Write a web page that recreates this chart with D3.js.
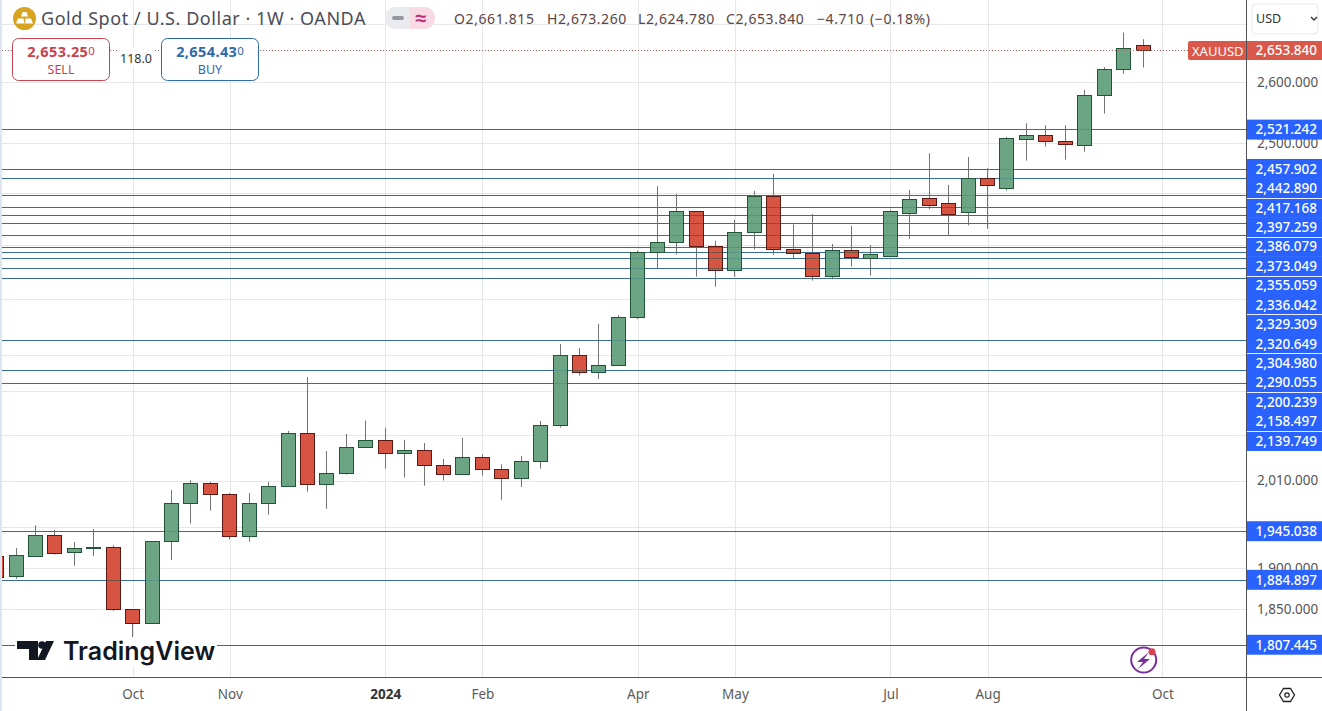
<!DOCTYPE html>
<html>
<head>
<meta charset="utf-8">
<script src="https://cdn.jsdelivr.net/npm/d3@7"></script>
<style>
    html, body { margin: 0; background: #fff; overflow: hidden; }
    text { font-family: "Noto Sans", sans-serif; }
    .grid line { stroke: #e6e7e9; stroke-width: 1; shape-rendering: crispEdges; }
    .grid path { display: none; }
    .level { stroke: #3a6b93; stroke-width: 1; shape-rendering: crispEdges; }
    .level-tint { stroke: #4a90c0; stroke-width: 1; opacity: 0.7; mix-blend-mode: darken; shape-rendering: crispEdges; }
</style>
</head>
<body>
<svg id="chart" width="1322" height="711"></svg>
<script>
// weekly candles, first one is the bar cut off by the left edge
var opens = [1914.4, 1889.1, 1914.7, 1940.3, 1918.4, 1923.9, 1925.1, 1849.6, 1833.0, 1932.7, 1980.6, 2006.6, 1992.2, 1938.5, 1980.6, 2002.7, 2072.5, 2005.3, 2019.6, 2053.6, 2063.0, 2045.7, 2049.6, 2030.0, 2018.3, 2040.5, 2024.8, 2013.1, 2035.3, 2083.2, 2179.4, 2155.8, 2165.5, 2233.8, 2329.4, 2344.6, 2392.1, 2338.5, 2303.1, 2360.0, 2415.7, 2334.3, 2327.9, 2293.2, 2332.4, 2320.5, 2323.2, 2389.0, 2412.0, 2404.3, 2389.0, 2442.6, 2427.8, 2506.0, 2512.5, 2502.7, 2496.2, 2578.2, 2622.1, 2661.815];
var highs = [1919.3, 1924.2, 1952.9, 1946.9, 1931.8, 1948.1, 1927.7, 1849.9, 1933.1, 1997.8, 2010.5, 2008.3, 1993.9, 1993.9, 2008.3, 2075.6, 2148.9, 2048.7, 2071.5, 2089.4, 2079.6, 2063.5, 2059.4, 2038.3, 2066.2, 2044.4, 2031.4, 2042.2, 2089.0, 2195.4, 2189.7, 2224.1, 2236.6, 2331.8, 2431.5, 2418.9, 2392.5, 2346.6, 2378.8, 2423.6, 2450.5, 2371.6, 2387.9, 2342.0, 2369.6, 2340.5, 2394.1, 2425.2, 2483.3, 2433.1, 2477.4, 2459.5, 2509.8, 2532.1, 2528.8, 2528.8, 2587.2, 2625.5, 2684.8, 2673.26];
var lows = [1886.3, 1886.3, 1913.5, 1916.0, 1902.5, 1914.4, 1847.6, 1811.2, 1832.8, 1909.5, 1954.9, 1971.3, 1935.2, 1932.2, 1966.3, 2002.7, 1995.6, 1973.8, 2017.8, 2053.6, 2025.6, 2013.9, 2003.4, 2010.0, 2018.3, 2016.5, 1985.2, 2001.7, 2025.6, 2080.0, 2151.1, 2146.4, 2165.5, 2230.9, 2304.2, 2325.8, 2293.2, 2278.3, 2293.2, 2333.9, 2325.8, 2320.5, 2287.2, 2289.3, 2308.0, 2294.7, 2322.9, 2350.1, 2395.2, 2355.3, 2370.3, 2365.0, 2424.1, 2471.6, 2494.0, 2473.2, 2485.8, 2547.9, 2614.6, 2624.78];
var closes = [1888.7, 1915.2, 1940.3, 1918.4, 1923.9, 1925.5, 1849.1, 1833.0, 1932.7, 1980.6, 2006.6, 1992.2, 1938.5, 1980.6, 2002.7, 2072.5, 2005.3, 2019.6, 2053.6, 2063.0, 2045.7, 2049.6, 2030.0, 2018.3, 2040.5, 2024.8, 2013.1, 2035.3, 2083.2, 2179.4, 2155.8, 2165.5, 2233.8, 2329.4, 2344.6, 2392.1, 2337.9, 2303.1, 2360.0, 2415.7, 2333.9, 2327.9, 2293.2, 2332.4, 2321.4, 2326.4, 2392.1, 2410.5, 2401.3, 2386.9, 2442.6, 2431.0, 2507.6, 2512.5, 2502.7, 2497.8, 2578.2, 2622.1, 2658.0, 2653.84];

var levels = [2521.242, 2457.902, 2442.890, 2417.168, 2397.259, 2386.079, 2373.049, 2355.059, 2336.042, 2329.309, 2320.649, 2304.980, 2290.055, 2200.239, 2158.497, 2139.749, 1945.038, 1884.897, 1807.445];
var gridPrices = [2700, 2600, 2500, 2420, 2340, 2260, 2180, 2130, 2070, 2010, 1950, 1900, 1850];
var priceLabels = [2600, 2500, 2010, 1950, 1900, 1850];
var monthBars = [7, 12, 20, 25, 33, 38, 46, 51, 60];
var monthLabels = ["Oct", "Nov", "2024", "Feb", "Apr", "May", "Jul", "Aug", "Oct"];
var ohlcText = ["O2,661.815", "H2,673.260", "L2,624.780", "C2,653.840", "\u22124.710", "(\u22120.18%)"];
var lastPrice = 2653.84;

var plotRight = 1246, plotBottom = 677;

var svg = d3.select("#chart");
var x = d3.scaleLinear().domain([1, 59]).range([16, 1143]);
var y = d3.scaleLog().domain([lastPrice, 1807.445]).range([50.5, 645]);
var fmt = d3.format(",.3f");

function crisp(v) { return Math.floor(v) + 0.5; }

svg.append("defs").append("clipPath").attr("id", "plot")
    .append("rect").attr("x", 2).attr("y", 0).attr("width", plotRight - 2).attr("height", plotBottom);

svg.append("rect").attr("x", 0).attr("y", 0).attr("width", 2).attr("height", 711).attr("fill", "#dfe5ee");

// grid comes straight from the axes
var yAxis = d3.axisRight(y).tickValues(priceLabels).tickSize(0).tickPadding(0).tickFormat(fmt);
var xAxis = d3.axisBottom(x).tickValues(monthBars).tickSize(0).tickPadding(0)
    .tickFormat(function(d, i) { return monthLabels[i]; });

svg.append("g").attr("class", "grid")
    .attr("transform", "translate(2,0)")
    .call(d3.axisRight(y).tickValues(gridPrices).tickSize(plotRight - 2).tickFormat(""));
svg.append("g").attr("class", "grid")
    .attr("clip-path", "url(#plot)")
    .call(d3.axisBottom(x).tickValues(monthBars).tickSize(plotBottom).tickFormat(""));

var plot = svg.append("g").attr("clip-path", "url(#plot)");

plot.selectAll(".level").data(levels).enter().append("line")
    .attr("class", "level")
    .attr("x1", 2).attr("x2", plotRight)
    .attr("y1", function(d) { return crisp(y(d)); })
    .attr("y2", function(d) { return crisp(y(d)); });

// candles
var candles = plot.selectAll(".candle").data(opens).enter().append("g").attr("class", "candle");

candles.append("line")
    .attr("x1", function(d, i) { return crisp(x(i)); })
    .attr("x2", function(d, i) { return crisp(x(i)); })
    .attr("y1", function(d, i) { return y(highs[i]); })
    .attr("y2", function(d, i) { return y(lows[i]); })
    .attr("stroke", "#737375").attr("stroke-width", 1);

candles.append("rect")
    .attr("x", function(d, i) { return crisp(x(i)) - 7; })
    .attr("width", 14)
    .attr("y", function(d, i) { return crisp(y(Math.max(d, closes[i]))); })
    .attr("height", function(d, i) { return Math.max(1, Math.round(Math.abs(y(d) - y(closes[i])))); })
    .attr("fill", function(d, i) { return closes[i] >= d ? "#6ba583" : "#d75442"; })
    .attr("stroke", function(d, i) { return closes[i] >= d ? "#225437" : "#5b1a13"; })
    .attr("stroke-width", 1)
    .attr("shape-rendering", "crispEdges");

// the levels show through the candle bodies
plot.selectAll(".level-tint").data(levels).enter().append("line")
    .attr("class", "level-tint")
    .attr("x1", 2).attr("x2", plotRight)
    .attr("y1", function(d) { return crisp(y(d)); })
    .attr("y2", function(d) { return crisp(y(d)); });

// last price dotted line
plot.append("line")
    .attr("x1", 2).attr("x2", plotRight)
    .attr("y1", crisp(y(lastPrice))).attr("y2", crisp(y(lastPrice)))
    .attr("stroke", "#a9695f").attr("stroke-width", 1)
    .attr("stroke-dasharray", "1 2");

// price axis
var yG = svg.append("g").attr("transform", "translate(" + (plotRight + 11) + ",0)").call(yAxis);
yG.select("path").remove();
yG.selectAll("text").attr("font-size", 13.5).attr("fill", "#555")
    .style("font-family", '"Noto Sans", sans-serif');

// time axis
var xG = svg.append("g").attr("transform", "translate(0," + (plotBottom + 12) + ")").call(xAxis);
xG.select("path").remove();
xG.selectAll("text")
    .attr("font-size", 13.5)
    .attr("fill", function(d, i) { return monthLabels[i] == "2024" ? "#333" : "#5b5b5b"; })
    .attr("font-weight", function(d, i) { return monthLabels[i] == "2024" ? 700 : 400; })
    .style("font-family", '"Noto Sans", sans-serif');

svg.append("line").attr("x1", 2).attr("x2", 1322).attr("y1", plotBottom + 0.5).attr("y2", plotBottom + 0.5)
    .attr("stroke", "#50535e");
svg.append("line").attr("x1", plotRight + 0.5).attr("x2", plotRight + 0.5).attr("y1", 0).attr("y2", 711)
    .attr("stroke", "#50535e");

// level tags, pushed down when they would overlap
var tagH = 19.43;
var tagY = [];
levels.forEach(function(d, i) {
    var c = y(d) - 0.5;
    tagY.push(i && c < tagY[i - 1] + tagH ? tagY[i - 1] + tagH : c);
});
var tags = svg.selectAll(".tag").data(levels).enter().append("g").attr("class", "tag")
    .attr("transform", function(d, i) { return "translate(" + (plotRight + 1) + "," + tagY[i] + ")"; });
tags.append("rect")
    .attr("x", 0).attr("y", -tagH / 2).attr("width", 75).attr("height", tagH + 0.5)
    .attr("fill", "#2962ff");
tags.append("text")
    .attr("x", 70).attr("y", 5).attr("text-anchor", "end")
    .attr("font-size", 13.5).attr("font-weight", 500).attr("fill", "#fff")
    .text(function(d) { return fmt(d); });
// thin gaps between every second tag of the stacked block
svg.selectAll(".tag-gap").data(d3.range(2, 15, 2)).enter().append("line")
    .attr("x1", plotRight + 1).attr("x2", 1322)
    .attr("y1", function(i) { return Math.round(tagY[i] + tagH / 2) + 0.5; })
    .attr("y2", function(i) { return Math.round(tagY[i] + tagH / 2) + 0.5; })
    .attr("stroke", "#e8eeff");

// last price tag
var py = y(lastPrice);
svg.append("rect").attr("x", 1188).attr("y", py - 9.5).attr("width", 70).attr("height", 19).attr("rx", 2).attr("fill", "#d9584a");
svg.append("rect").attr("x", plotRight + 1).attr("y", py - 9.5).attr("width", 75).attr("height", 19).attr("fill", "#d9584a");
svg.append("text").attr("x", 1192).attr("y", py + 5).attr("font-size", 13).attr("fill", "#fff").text("XAUUSD");
svg.append("text").attr("x", 1317).attr("y", py + 4).attr("text-anchor", "end").attr("font-size", 13.5)
    .attr("font-weight", 500).attr("fill", "#fff").text(fmt(lastPrice));
svg.append("line").attr("x1", plotRight + 0.5).attr("x2", plotRight + 0.5).attr("y1", py - 9.5).attr("y2", py + 9.5)
    .attr("stroke", "#50535e");

// currency box
svg.append("rect").attr("x", 1252).attr("y", 4).attr("width", 66).attr("height", 30).attr("rx", 4)
    .attr("fill", "#fff").attr("stroke", "#e6e7ea");
svg.append("text").attr("x", 1256).attr("y", 23).attr("font-size", 12.5).attr("fill", "#333").text("USD");
svg.append("path").attr("d", "M1311 17l3 3 3-3").attr("fill", "none").attr("stroke", "#333").attr("stroke-width", 1.4);

// title row
var gold = svg.append("g").attr("transform", "translate(24.5,18.5)");
gold.append("circle").attr("r", 11.5).attr("fill", "#d8a31f");
gold.append("path").attr("d", "M-3.5 -2L-2 -6.5H2L3.5 -2ZM-8.5 5L-6.5 0H-1L0 5ZM0.5 5L1 0H6.5L8.5 5Z").attr("fill", "#fff");

svg.append("text").attr("x", 41).attr("y", 25).attr("font-size", 18).attr("letter-spacing", 0.55).attr("fill", "#4a4d57")
    .text("Gold Spot / U.S. Dollar \u00b7 1W \u00b7 OANDA");

svg.append("rect").attr("x", 385).attr("y", 7).attr("width", 50).attr("height", 22).attr("rx", 11).attr("fill", "#e9ebef");
svg.append("path").attr("d", "M410 7H424A11 11 0 0 1 424 29H410Z").attr("fill", "#f9dbe5");
svg.append("rect").attr("x", 392).attr("y", 16).attr("width", 12).attr("height", 4).attr("rx", 2).attr("fill", "#9498a1");
svg.append("text").attr("x", 421).attr("y", 25).attr("text-anchor", "middle").attr("font-size", 20).attr("font-weight", 700).attr("fill", "#c2307a").text("\u2248");

var ohlcX = d3.scaleOrdinal().domain(ohlcText).range([454, 547, 638, 726, 817, 870]);
svg.selectAll(".ohlc").data(ohlcText).enter().append("text")
    .attr("class", "ohlc")
    .attr("x", function(d) { return ohlcX(d); }).attr("y", 24)
    .attr("font-size", 14).attr("letter-spacing", 0.6).attr("fill", "#5b4444")
    .text(function(d) { return d; });

// sell / buy buttons
function tradeBox(bx, colour, price, tail, label) {
    svg.append("rect").attr("x", bx + 0.5).attr("y", 38.5).attr("width", 97).attr("height", 42).attr("rx", 6)
        .attr("fill", "#fff").attr("stroke", colour);
    var t = svg.append("text").attr("x", bx + 49).attr("y", 57).attr("text-anchor", "middle").attr("fill", colour);
    t.append("tspan").attr("font-size", 14.5).attr("font-weight", 700).attr("letter-spacing", 0.4).text(price);
    t.append("tspan").attr("font-size", 11.5).attr("dy", -2).text(tail);
    svg.append("text").attr("x", bx + 49).attr("y", 74).attr("text-anchor", "middle")
        .attr("font-size", 12.5).attr("fill", colour).text(label);
}
tradeBox(12, "#c6434f", "2,653.25", "0", "SELL");
tradeBox(161, "#2f6aa8", "2,654.43", "0", "BUY");
svg.append("rect").attr("x", 118).attr("y", 48).attr("width", 36).attr("height", 18).attr("fill", "#fff");
svg.append("text").attr("x", 136).attr("y", 63).attr("text-anchor", "middle").attr("font-size", 12.5).attr("fill", "#333").text("118.0");

// watermark
var logo = svg.append("g");
logo.append("rect").attr("x", 15).attr("y", 637).attr("width", 202).attr("height", 30).attr("fill", "#fff");
logo.append("path").attr("d", "M17 641H38V660H29V649H17ZM46 641H54L45 660H37Z").attr("fill", "#131722");
logo.append("circle").attr("cx", 42).attr("cy", 645).attr("r", 3.8).attr("fill", "#131722");
logo.append("text").attr("x", 63).attr("y", 660).attr("font-size", 25).attr("font-weight", 600)
    .style("font-family", "Inter, sans-serif").attr("fill", "#131722").text("TradingView");

// bolt badge and settings hexagon
svg.append("circle").attr("cx", 1143.7).attr("cy", 660).attr("r", 12.5).attr("fill", "#fff").attr("stroke", "#7b2f9d").attr("stroke-width", 2);
svg.append("path").attr("d", "M1149 652L1137 662H1143L1138 669L1150 659H1144Z").attr("fill", "#7b2f9d");
svg.append("circle").attr("cx", 1152).attr("cy", 651.7).attr("r", 3.5).attr("fill", "#d9434e");
svg.append("path").attr("d", "M1279.5 695L1283.5 688.5H1290.5L1294.5 695L1290.5 701.5H1283.5Z").attr("fill", "none").attr("stroke", "#222").attr("stroke-width", 1.3);
svg.append("circle").attr("cx", 1287).attr("cy", 695).attr("r", 2.2).attr("fill", "none").attr("stroke", "#222").attr("stroke-width", 1.2);
</script>
</body>
</html>
